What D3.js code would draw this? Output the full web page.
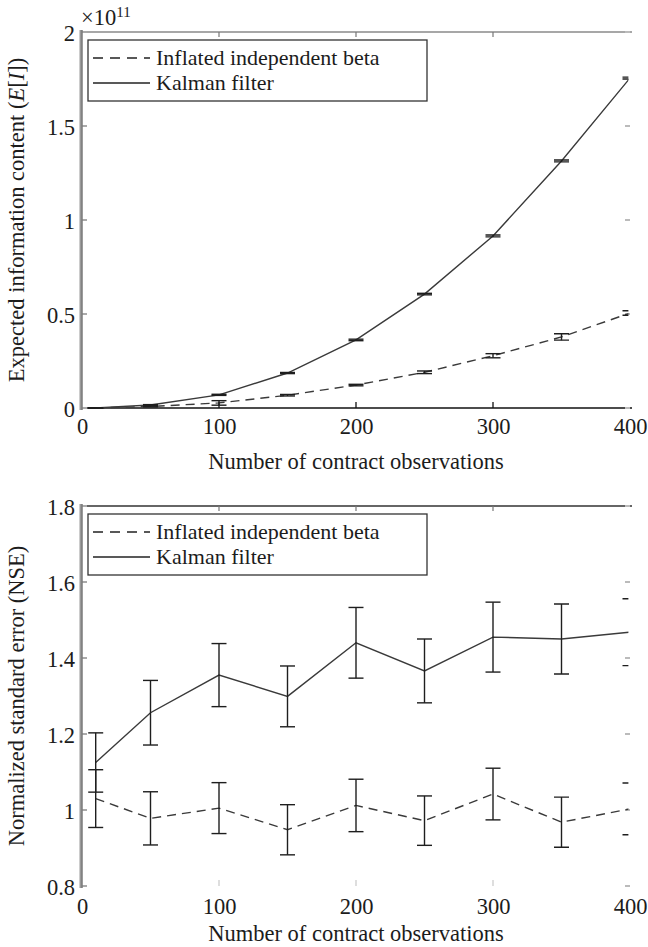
<!DOCTYPE html>
<html>
<head>
<meta charset="utf-8">
<script src="https://cdn.jsdelivr.net/npm/d3@7"></script>
<style>
  body { margin: 0; background: #fff; }
  svg text { font-family: "Liberation Serif", "Times New Roman", serif; fill: #1c1c1c; }
</style>
</head>
<body>
<svg id="chart" width="648" height="947"></svg>
<script>
// Number of contract observations (shared x values)
const observations = [10, 50, 100, 150, 200, 250, 300, 350, 400];

// Expected information content E[I], in units of 1e11
const infoInflated    = [0.0003, 0.008, 0.027, 0.068, 0.122, 0.19, 0.278, 0.378, 0.505];
const infoInflatedErr = [0.0002, 0.002, 0.012, 0.004, 0.004, 0.007, 0.011, 0.017, 0.012];
const infoKalman      = [0.0004, 0.016, 0.07, 0.186, 0.362, 0.606, 0.915, 1.314, 1.755];
const infoKalmanErr   = [0.0002, 0.002, 0.003, 0.003, 0.004, 0.004, 0.005, 0.005, 0.005];

// Normalized standard error
const nseInflated    = [1.03, 0.978, 1.005, 0.948, 1.012, 0.972, 1.042, 0.968, 1.003];
const nseInflatedErr = [0.076, 0.07, 0.067, 0.066, 0.069, 0.065, 0.068, 0.066, 0.068];
const nseKalman      = [1.125, 1.256, 1.355, 1.299, 1.44, 1.366, 1.455, 1.45, 1.468];
const nseKalmanErr   = [0.078, 0.085, 0.083, 0.08, 0.093, 0.084, 0.092, 0.092, 0.088];

// Axis ticks
const xTicks = [0, 100, 200, 300, 400];
const infoTicks = [0, 0.5, 1, 1.5, 2];
const nseTicks = [0.8, 1, 1.2, 1.4, 1.6, 1.8];

const seriesNames = ["Inflated independent beta", "Kalman filter"];
const xTitle = "Number of contract observations";

const SERIF = "Liberation Serif, Times New Roman, serif";
const FONT = 22.5;
const LEGEND_FONT = 22;
const svg = d3.select("#chart");

function drawPanel(cfg) {
  const { top, bottom, left, right, yDomain, yTicks, series, id } = cfg;
  const x = d3.scaleLinear().domain([0, 400]).range([left, right]);
  const y = d3.scaleLinear().domain(yDomain).range([bottom, top]);
  const g = svg.append("g").attr("font-family", SERIF);

  // clip so the last error bars are cut at the plot edge
  svg.append("clipPath").attr("id", "clip" + id)
    .append("rect").attr("x", left).attr("y", top - 10)
    .attr("width", right - left - 1.6).attr("height", bottom - top + 20);

  // frame: top edge
  g.append("line").attr("x1", left).attr("x2", right + 2).attr("y1", top).attr("y2", top)
    .attr("stroke", cfg.topEdge).attr("stroke-width", 1.6);
  // bottom edge
  if (cfg.bottomEdge) {
    g.append("line").attr("x1", left).attr("x2", right + 2).attr("y1", bottom).attr("y2", bottom)
      .attr("stroke", cfg.bottomEdge).attr("stroke-width", 1.6);
  }

  // x axis labels
  const xAxisB = d3.axisBottom(x).tickValues(xTicks).tickSize(0).tickPadding(cfg.xPad)
    .tickFormat(d3.format("d"));
  const gx = g.append("g").attr("transform", `translate(0,${bottom})`).call(xAxisB)
    .attr("font-family", SERIF).attr("font-size", FONT);
  gx.select(".domain").remove();
  gx.selectAll("text").attr("fill", "#1c1c1c");
  // inward x ticks on bottom and top edges
  [100, 200, 300].forEach(v => {
    g.append("line").attr("x1", x(v)).attr("x2", x(v)).attr("y1", bottom).attr("y2", bottom - 6)
      .attr("stroke", cfg.xTickColor).attr("stroke-width", 1.3);
    g.append("line").attr("x1", x(v)).attr("x2", x(v)).attr("y1", top).attr("y2", top + 5)
      .attr("stroke", "#777").attr("stroke-width", 1.2);
  });

  // y axis labels
  const yAxis = d3.axisLeft(y).tickValues(yTicks).tickSize(0).tickPadding(6)
    .tickFormat(d => String(d));
  const gy = g.append("g").attr("transform", `translate(${left - 1},0)`).call(yAxis)
    .attr("font-family", SERIF).attr("font-size", FONT);
  gy.select(".domain").remove();
  gy.selectAll("text").attr("fill", "#1c1c1c").attr("dy", "0.36em");
  // inward y ticks on left and right edges
  yTicks.forEach(v => {
    g.append("line").attr("x1", left).attr("x2", left + 5).attr("y1", y(v)).attr("y2", y(v))
      .attr("stroke", "#aaa").attr("stroke-width", 2);
    g.append("line").attr("x1", right - 5).attr("x2", right).attr("y1", y(v)).attr("y2", y(v))
      .attr("stroke", "#bbb").attr("stroke-width", 2);
  });
  // left edge: soft gray double stroke
  g.append("line").attr("x1", left - 1).attr("x2", left - 1).attr("y1", top - 2).attr("y2", bottom + 2)
    .attr("stroke", "#9a9a9a").attr("stroke-width", 3);
  g.append("line").attr("x1", left).attr("x2", left).attr("y1", top - 2).attr("y2", bottom + 2)
    .attr("stroke", "#6a6a6a").attr("stroke-width", 1);

  // data lines and error bars
  const plot = g.append("g").attr("clip-path", `url(#clip${id})`);
  const line = d3.line().x(d => x(d.x)).y(d => y(d.y));
  series.forEach(s => {
    const pts = observations.map((o, i) => ({ x: o, y: s.values[i], e: s.errors[i] }));
    plot.append("path").datum(pts).attr("d", line)
      .attr("fill", "none").attr("stroke", "#3a3a3a").attr("stroke-width", 1.4)
      .attr("stroke-dasharray", s.dash ? "9,6" : null);
    const eb = plot.append("g").selectAll("g").data(pts).join("g")
      .attr("stroke", "#1e1e1e").attr("stroke-width", 1.4);
    eb.append("line").attr("x1", d => x(d.x)).attr("x2", d => x(d.x))
      .attr("y1", d => y(d.y - d.e)).attr("y2", d => y(d.y + d.e));
    eb.append("line").attr("x1", d => x(d.x) - 7.5).attr("x2", d => x(d.x) + 7.5)
      .attr("y1", d => y(d.y + d.e)).attr("y2", d => y(d.y + d.e));
    eb.append("line").attr("x1", d => x(d.x) - 7.5).attr("x2", d => x(d.x) + 7.5)
      .attr("y1", d => y(d.y - d.e)).attr("y2", d => y(d.y - d.e));
  });

  // legend
  const lg = g.append("g");
  lg.append("rect").attr("x", left + 6).attr("y", top + 8).attr("width", 339).attr("height", 61)
    .attr("fill", "#fff").attr("stroke", "#333").attr("stroke-width", 1.3);
  seriesNames.forEach((name, i) => {
    const ly = top + 26 + i * 25;
    lg.append("line").attr("x1", left + 11).attr("x2", left + 68).attr("y1", ly).attr("y2", ly)
      .attr("stroke", "#222").attr("stroke-width", 1.4)
      .attr("stroke-dasharray", i === 0 ? "10,7" : null);
    lg.append("text").attr("x", left + 74).attr("y", ly + 7)
      .attr("font-size", LEGEND_FONT).text(name);
  });

  // x title
  g.append("text").attr("x", (left + right) / 2).attr("y", cfg.titleY)
    .attr("text-anchor", "middle").attr("font-size", FONT).text(xTitle);

  // y title
  const yt = g.append("text")
    .attr("transform", `translate(24,${(top + bottom) / 2}) rotate(-90)`)
    .attr("text-anchor", "middle").attr("font-size", FONT);
  cfg.yTitle(yt);
  return { x, y };
}

drawPanel({
  id: "a", top: 32, bottom: 408, left: 82, right: 630,
  yDomain: [0, 2], yTicks: infoTicks,
  topEdge: "#8a8a8a", bottomEdge: "#111", xTickColor: "#111", xPad: 10, titleY: 469,
  series: [
    { values: infoInflated, errors: infoInflatedErr, dash: true },
    { values: infoKalman, errors: infoKalmanErr, dash: false }
  ],
  yTitle: t => {
    t.append("tspan").text("Expected information content (");
    t.append("tspan").attr("font-style", "italic").text("E");
    t.append("tspan").text("[");
    t.append("tspan").attr("font-style", "italic").text("I");
    t.append("tspan").text("])");
  }
});

// exponent marker for the upper panel
const expo = svg.append("text").attr("x", 81).attr("y", 25)
  .attr("font-family", SERIF).attr("font-size", FONT);
expo.append("tspan").text("×10");
expo.append("tspan").attr("dy", -8).attr("font-size", 15).text("11");

drawPanel({
  id: "b", top: 506, bottom: 886, left: 82, right: 630,
  yDomain: [0.8, 1.8], yTicks: nseTicks,
  topEdge: "#333", bottomEdge: null, xTickColor: "#ccc", xPad: 12, titleY: 941,
  series: [
    { values: nseInflated, errors: nseInflatedErr, dash: true },
    { values: nseKalman, errors: nseKalmanErr, dash: false }
  ],
  yTitle: t => t.text("Normalized standard error (NSE)")
});
</script>
</body>
</html>
